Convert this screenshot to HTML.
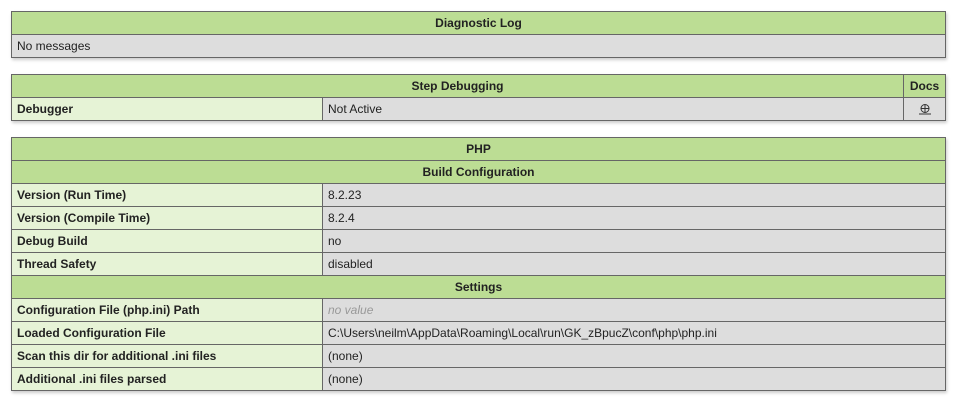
<!DOCTYPE html>
<html><head><style>
body{margin:0;background:#fff;width:960px;height:406px;overflow:hidden;font-family:"Liberation Sans",Arial,sans-serif;font-size:12px;color:#222}
table{position:absolute;left:11px;width:935px;border-collapse:collapse;box-shadow:1px 2px 3px #ccc}
td,th{border:1px solid #666;height:23px;padding:0 5px;box-sizing:border-box;line-height:21px}
th{background:#bcdd94;font-weight:bold;text-align:center}
td.e{background:#e6f3d6;font-weight:bold;width:311px}
td.v{background:#ddd}
td.n{background:#ddd}
i{color:#999}
</style></head><body>
<table style="top:11px">
<tr><th>Diagnostic Log</th></tr>
<tr><td class="n">No messages</td></tr>
</table>
<table style="top:74px">
<tr><th colspan="2">Step Debugging</th><th style="width:42px">Docs</th></tr>
<tr><td class="e">Debugger</td><td class="v">Not Active</td><td class="v" style="text-align:center"><svg width="12" height="12" viewBox="0 0 12 12" style="vertical-align:middle"><circle cx="6" cy="5.5" r="4" fill="none" stroke="#333" stroke-width="1"/><path d="M2 5.5H10M6 1.5V9.5M0 11H12" stroke="#333" stroke-width="1"/></svg></td></tr>
</table>
<table style="top:137px">
<tr><th colspan="2">PHP</th></tr>
<tr><th colspan="2">Build Configuration</th></tr>
<tr><td class="e">Version (Run Time)</td><td class="v">8.2.23</td></tr>
<tr><td class="e">Version (Compile Time)</td><td class="v">8.2.4</td></tr>
<tr><td class="e">Debug Build</td><td class="v">no</td></tr>
<tr><td class="e">Thread Safety</td><td class="v">disabled</td></tr>
<tr><th colspan="2">Settings</th></tr>
<tr><td class="e">Configuration File (php.ini) Path</td><td class="v"><i>no value</i></td></tr>
<tr><td class="e">Loaded Configuration File</td><td class="v">C:\Users\neilm\AppData\Roaming\Local\run\GK_zBpucZ\conf\php\php.ini</td></tr>
<tr><td class="e">Scan this dir for additional .ini files</td><td class="v">(none)</td></tr>
<tr><td class="e">Additional .ini files parsed</td><td class="v">(none)</td></tr>
</table>
</body></html>
